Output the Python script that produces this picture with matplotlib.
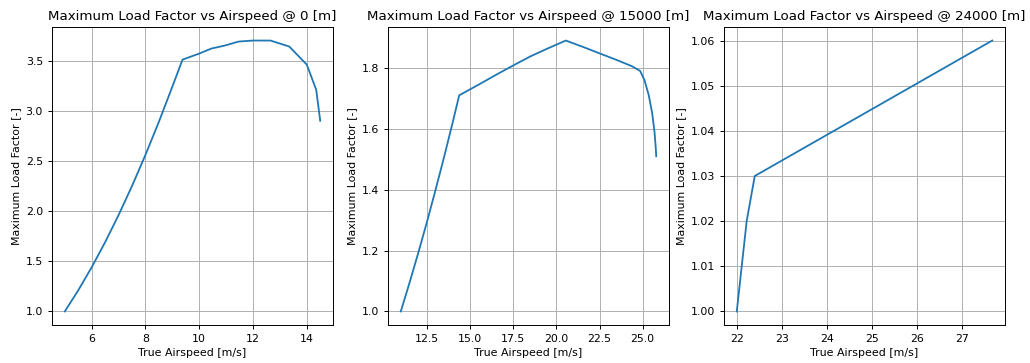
import matplotlib
matplotlib.use('Agg')
import matplotlib.pyplot as plt

# altitude 0 m
v0 = [5.0, 5.5, 6.0, 6.5, 7.0, 7.5, 8.0, 8.5, 9.0, 9.38, 10.0, 10.45, 10.95, 11.47, 12.0, 12.65, 13.35, 14.0, 14.35, 14.5]
n0 = [1.0, 1.21, 1.44, 1.69, 1.96, 2.25, 2.56, 2.89, 3.24, 3.51, 3.57, 3.62, 3.65, 3.69, 3.70, 3.70, 3.64, 3.46, 3.21, 2.90]

# altitude 15000 m
v1 = [11.0, 11.5, 12.0, 12.5, 13.0, 13.5, 14.0, 14.38, 15.5, 16.5, 17.5, 18.5, 19.5, 20.55, 21.5, 22.5, 23.5, 24.4, 24.85, 25.1, 25.35, 25.55, 25.68, 25.75, 25.78]
n1 = [1.0, 1.093, 1.19, 1.291, 1.397, 1.506, 1.62, 1.71, 1.745, 1.777, 1.808, 1.838, 1.864, 1.89, 1.87, 1.848, 1.826, 1.805, 1.79, 1.76, 1.71, 1.65, 1.59, 1.54, 1.51]

# altitude 24000 m
v2 = [22.0, 22.22, 22.4, 27.68]
n2 = [1.0, 1.02, 1.03, 1.06]

titles = ['Maximum Load Factor vs Airspeed @ 0 [m]',
          'Maximum Load Factor vs Airspeed @ 15000 [m]',
          'Maximum Load Factor vs Airspeed @ 24000 [m]']
lefts = [52, 388, 724]

fig = plt.figure(figsize=(10.3, 3.63), dpi=100)
for i, (x, y) in enumerate([(v0, n0), (v1, n1), (v2, n2)]):
    ax = fig.add_axes([lefts[i] / 1030, 1 - 325 / 363, 281 / 1030, 298 / 363])
    ax.plot(x, y, color='#1f77b4', lw=1.3)
    ax.grid(True, lw=0.7)
    for s in ax.spines.values():
        s.set_linewidth(0.7)
    ax.set_title(titles[i], fontsize=9.6, pad=5)
    ax.set_xlabel('True Airspeed [m/s]', fontsize=7.9, labelpad=3)
    ax.set_ylabel('Maximum Load Factor [-]', fontsize=7.9, labelpad=3)
    ax.tick_params(labelsize=7.9, width=0.7, length=3)

fig.savefig('out.png', dpi=100)
